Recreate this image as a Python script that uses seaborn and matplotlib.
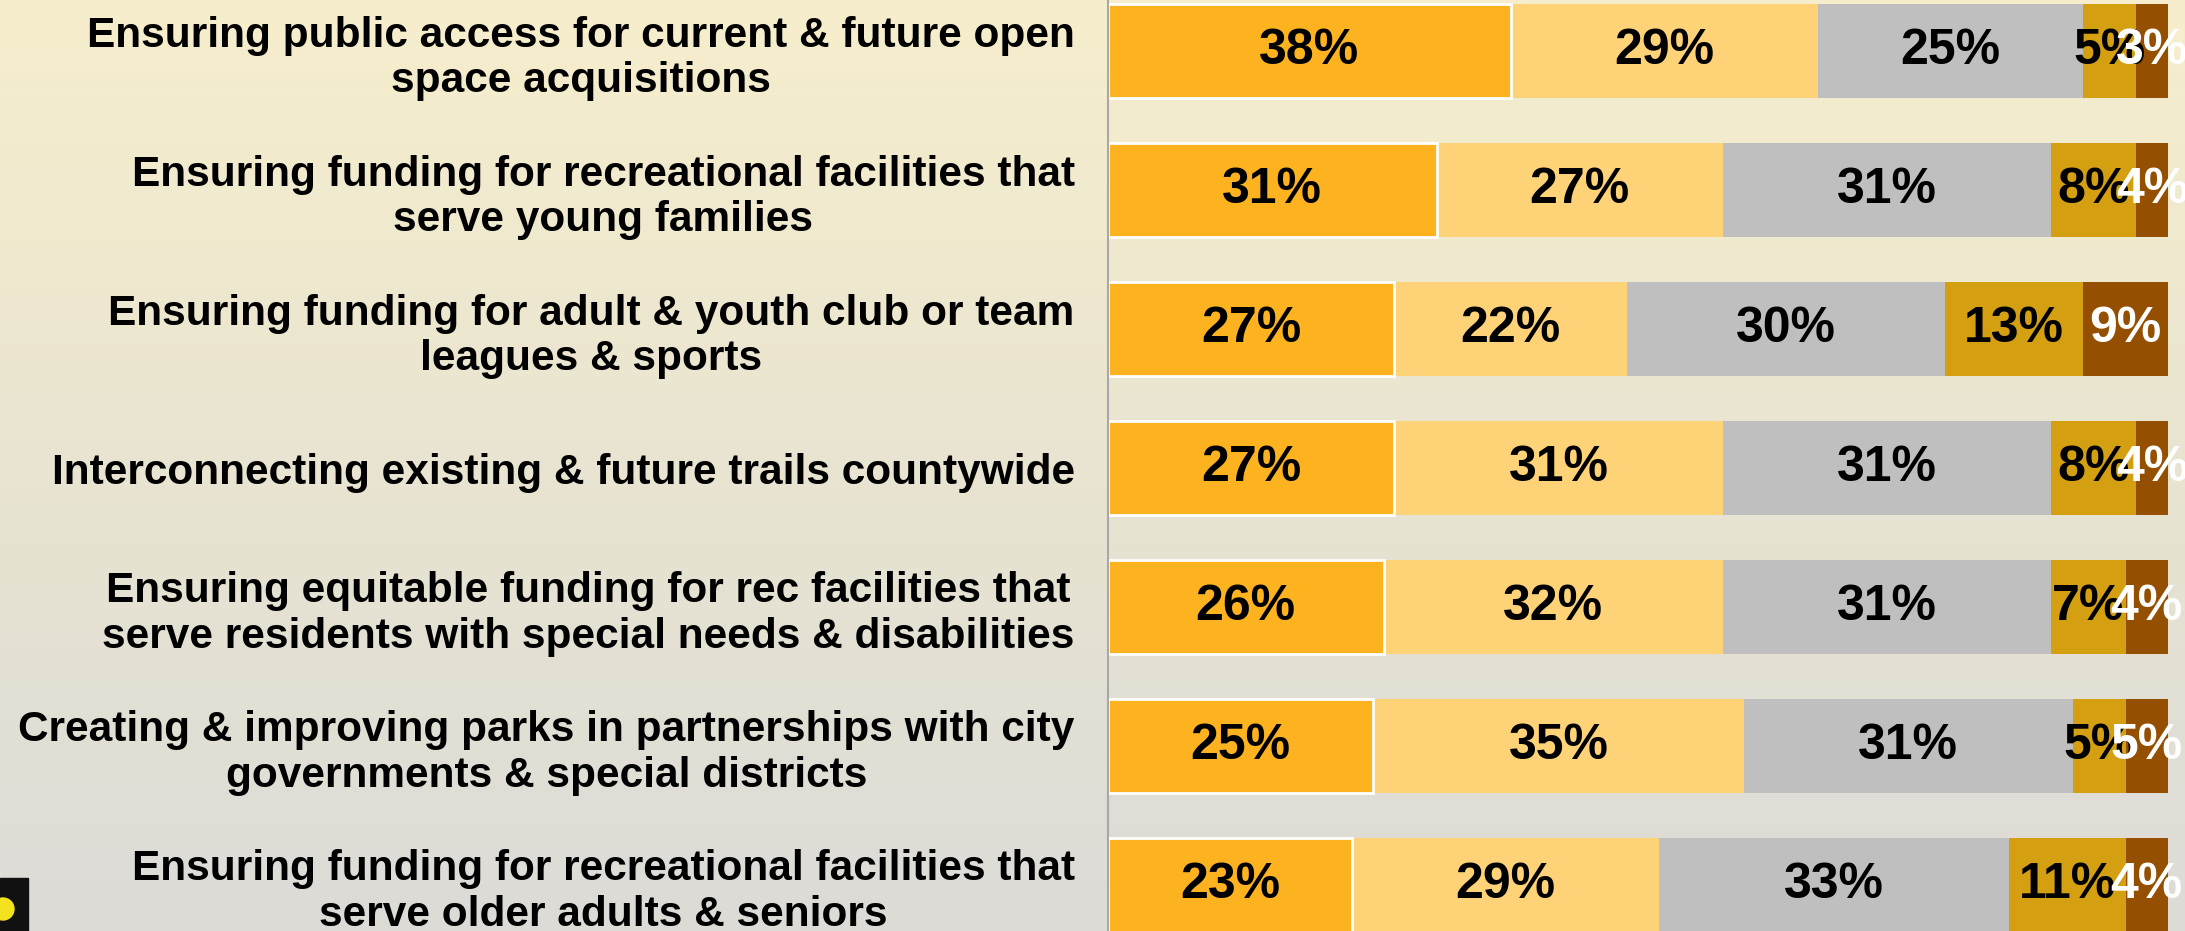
"""Priorities survey: stacked horizontal bars."""
import numpy as np
import pandas as pd
import matplotlib

matplotlib.use("Agg")
import matplotlib.pyplot as plt
import seaborn as sns

categories = [
    "Ensuring public access for current & future open\nspace acquisitions",
    "Ensuring funding for recreational facilities that\nserve young families",
    "Ensuring funding for adult & youth club or team\nleagues & sports",
    "Interconnecting existing & future trails countywide",
    "Ensuring equitable funding for rec facilities that\nserve residents with special needs & disabilities",
    "Creating & improving parks in partnerships with city\ngovernments & special districts",
    "Ensuring funding for recreational facilities that\nserve older adults & seniors",
]
level1 = [38, 31, 27, 27, 26, 25, 23]
level2 = [29, 27, 22, 31, 32, 35, 29]
level3 = [25, 31, 30, 31, 31, 31, 33]
level4 = [5, 8, 13, 8, 7, 5, 11]
level5 = [3, 4, 9, 4, 4, 5, 4]

series = [level1, level2, level3, level4, level5]
colors = ["#FDB31F", "#FED378", "#BFBFBF", "#D4A012", "#944F00"]
text_colors = ["black", "black", "black", "black", "white"]

sns.set_style("white")
plt.rcParams["font.family"] = ["Liberation Sans", "DejaVu Sans"]

W, H = 2185, 931
fig = plt.figure(figsize=(W / 100, H / 100), dpi=100)

# gradient background
bg = fig.add_axes([0, 0, 1, 1], zorder=-1)
top = np.array([0.965, 0.933, 0.800])
bot = np.array([0.863, 0.859, 0.843])
t = np.linspace(0, 1, 256)[:, None, None]
grad = top * (1 - t) + bot * t
grad = np.repeat(grad, 4, axis=1)
bg.imshow(grad, aspect="auto", extent=[0, 1, 0, 1], origin="upper")
bg.set_axis_off()

# small corner badge
bg.add_patch(plt.Rectangle((0, 0), 28 / W, 53 / H, color="#111111"))
bg.add_patch(matplotlib.patches.Ellipse((3 / W, 22 / H), 22 / W, 22 / H,
                                        color="#F5E21E"))
bg.set_xlim(0, 1)
bg.set_ylim(0, 1)

ax = fig.add_axes([1108 / W, 0, (2168 - 1108) / W, 1])
ax.set_facecolor("none")

df = pd.DataFrame({"label": categories})
cum = np.zeros(len(categories))
cums = []
for s in series:
    cum = cum + np.array(s)
    cums.append(cum.copy())

# draw largest cumulative first so earlier segments sit on top
for i in range(len(series) - 1, -1, -1):
    df["cum"] = cums[i]
    sns.barplot(
        data=df, x="cum", y="label", orient="h", color=colors[i],
        saturation=1, width=0.67, ax=ax,
        edgecolor="white" if i == 0 else colors[i],
        linewidth=2 if i == 0 else 0,
    )

for i, s in enumerate(series):
    start = cums[i] - np.array(s)
    for j, v in enumerate(s):
        center = min((start[j] + cums[i][j]) / 2, (start[j] + 100) / 2)
        ax.text(center, j, f"{v}%", ha="center", va="center",
                fontsize=36, fontweight="bold", color=text_colors[i])

ax.set_xlim(0, 100)
ax.set_ylim(6.331, -0.367)
ax.set_xlabel("")
ax.set_ylabel("")
ax.set_xticks([])
ax.set_yticks(range(len(categories)))
ax.set_yticklabels(categories, fontsize=30.5, fontweight="bold",
                   multialignment="center", color="black", linespacing=1.17)
ax.tick_params(axis="y", length=0, pad=24)
for side in ["top", "right", "bottom"]:
    ax.spines[side].set_visible(False)
ax.spines["left"].set_color("#A8A8A8")
ax.spines["left"].set_linewidth(1.5)

fig.savefig("out.png", dpi=100)
